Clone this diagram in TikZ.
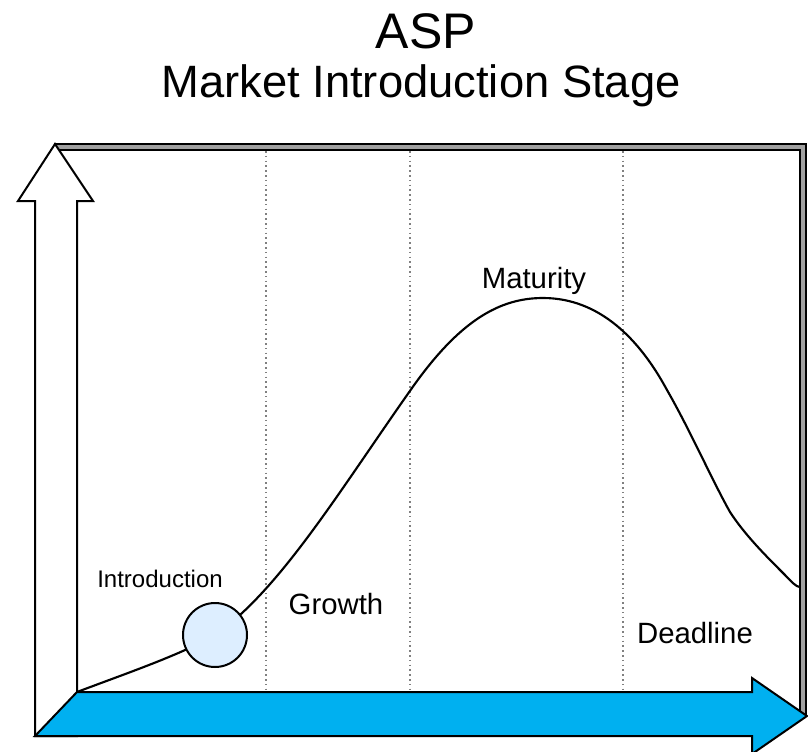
\documentclass[tikz,border=0pt]{standalone}
\usepackage{fontspec}
\setmainfont{Liberation Sans}
\definecolor{arrowblue}{RGB}{0,176,240}
\definecolor{circfill}{RGB}{221,238,255}
\definecolor{bandgray}{RGB}{160,160,160}
\tikzset{
  outline/.style={draw=black, line width=1.5pt, line join=miter},
  divider/.style={draw=gray, line width=0.9pt, dash pattern=on 1.2pt off 2.4pt},
  curveline/.style={draw=black, line width=1.6pt},
  title/.style={anchor=base, inner sep=0pt},
  stage/.style={anchor=base, inner sep=0pt, font=\fontsize{22}{24}\selectfont},
}
\begin{document}
\begin{tikzpicture}[x=0.75pt, y=-0.75pt]
\useasboundingbox (0,0) rectangle (808,751);
% titles
\node[title, font=\fontsize{37.5}{40}\selectfont] (asp) at (426,48) {ASP};
\node[title, font=\fontsize{34}{38}\selectfont] (sub) at (421,97) {Market Introduction Stage};
% frame with grey band
\filldraw[outline, fill=bandgray, line width=1.2pt] (55,144) rectangle (806,714);
\filldraw[outline, fill=white, line width=1.2pt] (55,150) rectangle (800,714);
% dotted dividers
\foreach \x/\n in {266/a,410/b,623/c}{
  \coordinate (d\n top) at (\x,151);
  \coordinate (d\n bot) at (\x,692);
  \draw[divider] (d\n top) -- (d\n bot);
}
% life-cycle curve
\coordinate (cstart) at (77,692);
\coordinate (cend) at (800,587);
\draw[curveline] (cstart) .. controls (130,672) and (180,655) .. (215,635)
  .. controls (280,590) and (340,490) .. (412,388)
  .. controls (460,320) and (500,298) .. (543,298)
  .. controls (600,298) and (640,340) .. (667,390)
  .. controls (690,430) and (712,480) .. (730,512)
  .. controls (745,535) and (765,555) .. (785,575)
  .. controls (792,582) and (796,587) .. (cend);
\node[circle, draw=black, line width=1.5pt, fill=circfill, minimum size=48pt, inner sep=0pt] (intro) at (215,635) {};
% labels
\node[stage, font=\fontsize{18}{20}\selectfont] (lintro) at (160,587) {Introduction};
\node[stage] (lgrowth) at (336,614) {Growth};
\node[stage] (lmat) at (534,288) {Maturity};
\node[stage] (ldead) at (695,643) {Deadline};
% vertical block arrow
\filldraw[outline, fill=white] (35,736) -- (35,201) -- (18,201) -- (55,144) -- (93,201) -- (77,201) -- (77,736) -- cycle;
% horizontal block arrow
\filldraw[outline, fill=arrowblue] (35,736) -- (77,692) -- (752,692) -- (752,678) -- (807,716) -- (752,754) -- (752,736) -- cycle;
\end{tikzpicture}
\end{document}
